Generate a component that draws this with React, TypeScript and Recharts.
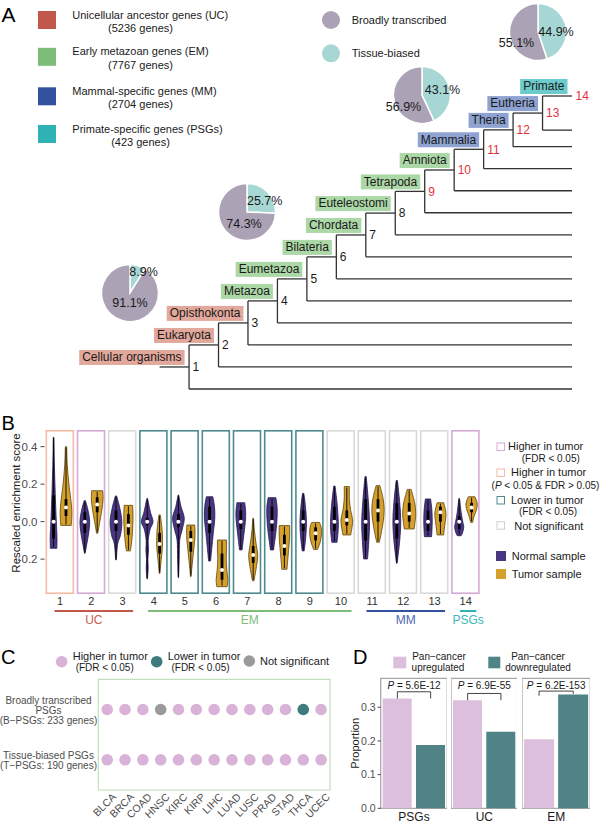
import React from "react";
import {
  ScatterChart,
  Scatter,
  XAxis,
  YAxis,
  ReferenceLine,
  ReferenceArea,
  PieChart,
  Pie,
  Cell,
  ComposedChart,
  Bar,
  BarChart,
  Label,
} from "recharts";

const FONT = "'Liberation Sans', Arial, Helvetica, sans-serif";

// ---------- panel A data ----------
const ageGroups = ["UC", "EM", "MM", "PSGs"];
const ageGroupTitles = [
  "Unicellular ancestor genes (UC)",
  "Early metazoan genes (EM)",
  "Mammal-specific genes (MM)",
  "Primate-specific genes (PSGs)",
];
const ageGroupGenes = [5236, 7767, 2704, 423];
const broadlyPct = [91.1, 74.3, 56.9, 55.1];
const tissuePct = [8.9, 25.7, 43.1, 44.9];

const cladeNames = [
  "Cellular organisms", "Eukaryota", "Opisthokonta", "Metazoa", "Eumetazoa",
  "Bilateria", "Chordata", "Euteleostomi", "Tetrapoda", "Amniota",
  "Mammalia", "Theria", "Eutheria", "Primate",
];
const cladeGroups = ["UC", "UC", "UC", "EM", "EM", "EM", "EM", "EM", "EM", "EM", "MM", "MM", "MM", "PSGs"];
// vertical position of each leaf (row units, bottom leaf = 0)
const leafRows = [0, 1, 2, 3, 4, 5, 6, 7, 8, 9, 10, 11, 11.75, 13.3];

// ---------- panel B data ----------
const strata = ["1", "2", "3", "4", "5", "6", "7", "8", "9", "10", "11", "12", "13", "14"];
const strataStatus = ["higherP", "higherFDR", "ns", "lower", "lower", "lower", "lower", "lower", "lower", "ns", "ns", "ns", "ns", "higherFDR"];
const normalMedian = [0, 0, 0, 0, 0, 0, 0, 0, 0, 0, 0, 0, 0, 0];
const tumorMedian = [0.076, 0.092, -0.021, -0.119, -0.098, -0.258, -0.178, -0.13, -0.062, 0.009, 0.059, 0.044, 0.05, 0.075];
const normalBox = [[-0.09, 0.14], [-0.06, 0.05], [-0.05, 0.06], [-0.02, 0.02], [-0.03, 0.04], [-0.06, 0.08], [-0.04, 0.06], [-0.05, 0.08], [-0.05, 0.06], [-0.05, 0.08], [-0.1, 0.12], [-0.09, 0.1], [-0.05, 0.06], [-0.04, 0.03]];
const tumorBox = [[0.03, 0.12], [0.05, 0.13], [-0.07, 0.04], [-0.17, -0.06], [-0.16, -0.05], [-0.31, -0.17], [-0.22, -0.13], [-0.18, -0.07], [-0.1, -0.03], [-0.02, 0.06], [0.0, 0.12], [0.0, 0.1], [0.0, 0.08], [0.05, 0.1]];
// violin outlines: [score, relative half width], top to bottom
const normalShape = [
  [[0.45, 0.05], [0.3, 0.12], [0.15, 0.25], [0.0, 0.42], [-0.08, 0.52], [-0.142, 0.5]],
  [[0.112, 0.1], [0.06, 0.5], [0.0, 0.75], [-0.06, 0.6], [-0.12, 0.3], [-0.169, 0.05]],
  [[0.137, 0.1], [0.07, 0.6], [0.0, 0.9], [-0.07, 0.7], [-0.12, 0.25], [-0.204, 0.05]],
  [[0.124, 0.05], [0.05, 0.5], [0.0, 0.9], [-0.04, 0.45], [-0.1, 0.15], [-0.15, 0.2], [-0.2, 0.1], [-0.25, 0.15], [-0.306, 0.03]],
  [[0.142, 0.05], [0.08, 0.4], [0.02, 0.9], [-0.04, 0.6], [-0.1, 0.2], [-0.2, 0.12], [-0.299, 0.03]],
  [[0.133, 0.5], [0.08, 0.75], [0.02, 0.8], [-0.05, 0.6], [-0.12, 0.4], [-0.21, 0.15]],
  [[0.101, 0.6], [0.05, 0.75], [0.0, 0.7], [-0.06, 0.5], [-0.12, 0.3], [-0.151, 0.2]],
  [[0.128, 0.6], [0.07, 0.8], [0.0, 0.75], [-0.07, 0.55], [-0.12, 0.35], [-0.151, 0.25]],
  [[0.151, 0.1], [0.08, 0.35], [0.0, 0.5], [-0.08, 0.4], [-0.156, 0.15]],
  [[0.19, 0.1], [0.1, 0.4], [0.0, 0.6], [-0.06, 0.55], [-0.11, 0.4]],
  [[0.24, 0.1], [0.12, 0.4], [0.0, 0.6], [-0.1, 0.5], [-0.199, 0.3]],
  [[0.219, 0.1], [0.1, 0.45], [0.0, 0.6], [-0.1, 0.45], [-0.222, 0.05]],
  [[0.121, 0.4], [0.06, 0.6], [0.0, 0.65], [-0.05, 0.6], [-0.08, 0.55]],
  [[0.124, 0.05], [0.05, 0.3], [0.0, 0.55], [-0.03, 0.7], [-0.06, 0.5], [-0.075, 0.3]],
];
const tumorShape = [
  [[0.4, 0.1], [0.3, 0.2], [0.2, 0.45], [0.1, 0.8], [0.05, 0.9], [0.0, 0.85], [-0.02, 0.8]],
  [[0.165, 0.85], [0.12, 0.9], [0.06, 0.7], [0.0, 0.4], [-0.04, 0.2], [-0.062, 0.1]],
  [[0.087, 0.65], [0.05, 0.7], [0.0, 0.7], [-0.07, 0.6], [-0.12, 0.45], [-0.156, 0.3]],
  [[0.036, 0.1], [-0.03, 0.35], [-0.1, 0.45], [-0.15, 0.4], [-0.22, 0.2], [-0.276, 0.05]],
  [[-0.018, 0.6], [-0.05, 0.65], [-0.1, 0.6], [-0.15, 0.45], [-0.2, 0.3], [-0.25, 0.15], [-0.293, 0.05]],
  [[-0.098, 0.7], [-0.15, 0.7], [-0.2, 0.65], [-0.26, 0.75], [-0.31, 0.9], [-0.347, 0.8]],
  [[0.018, 0.05], [-0.05, 0.2], [-0.12, 0.45], [-0.18, 0.7], [-0.24, 0.5], [-0.3, 0.2], [-0.316, 0.1]],
  [[-0.021, 0.8], [-0.08, 0.8], [-0.13, 0.7], [-0.19, 0.55], [-0.23, 0.45], [-0.254, 0.4]],
  [[-0.004, 0.6], [-0.03, 0.85], [-0.07, 0.9], [-0.11, 0.7], [-0.148, 0.3]],
  [[0.187, 0.4], [0.12, 0.4], [0.06, 0.6], [0.01, 0.9], [-0.03, 0.8], [-0.071, 0.6]],
  [[0.192, 0.3], [0.12, 0.8], [0.06, 0.95], [0.0, 0.8], [-0.06, 0.5], [-0.11, 0.2]],
  [[0.172, 0.3], [0.1, 0.85], [0.04, 1.0], [0.0, 0.9], [-0.039, 0.75]],
  [[0.101, 0.5], [0.06, 0.8], [0.03, 0.85], [0.0, 0.75], [-0.04, 0.6], [-0.071, 0.5]],
  [[0.133, 0.5], [0.1, 0.85], [0.07, 0.8], [0.03, 0.4], [-0.004, 0.15]],
];
const scoreTicks = [-0.2, 0, 0.2, 0.4];
const scoreMin = -0.386;
const scoreMax = 0.489;

// ---------- panel C data ----------
const cancers = ["BLCA", "BRCA", "COAD", "HNSC", "KIRC", "KIRP", "LIHC", "LUAD", "LUSC", "PRAD", "STAD", "THCA", "UCEC"];
const bPsgStatus = ["up", "up", "up", "ns", "up", "up", "up", "up", "up", "up", "up", "down", "up"];
const tPsgStatus = ["up", "up", "up", "up", "up", "up", "up", "up", "up", "up", "up", "up", "up"];
const rowLabels = [
  ["Broadly transcribed", "PSGs", "(B\u2212PSGs: 233 genes)"],
  ["Tissue-biased PSGs", "(T\u2212PSGs: 190 genes)"],
];

// ---------- panel D data ----------
const facets = ["PSGs", "UC", "EM"];
const upregProp = [0.326, 0.321, 0.205];
const downregProp = [0.188, 0.227, 0.338];
const pValues = ["5.6E-12", "6.9E-55", "6.2E-153"];
const bracketTop = [0.346, 0.341, 0.348];
const bracketLegs = [[0.326, 0.326], [0.321, 0.321], [0.334, 0.34]];
const propTicks = [0, 0.1, 0.2, 0.3];

// ---------- colours ----------
const groupColor: Record<string, string> = { UC: "#c2574b", EM: "#7dbd79", MM: "#3252a0", PSGs: "#2fb2b4" };
const groupText: Record<string, string> = { UC: "#c8604f", EM: "#7dbd79", MM: "#4a66ad", PSGs: "#3ab7b8" };
const cladeFill: Record<string, string> = { UC: "#e3a89c", EM: "#acd7a6", MM: "#8ea3d2", PSGs: "#6dcbcb" };
const BROAD = "#aba2b6";
const TISSUE = "#a6d7d4";
const frameColor: Record<string, string> = { higherFDR: "#d6aad6", higherP: "#f4bca6", lower: "#4f8b8d", ns: "#d9d9d9" };
const NORMAL = "#4a3781";
const TUMOR = "#d5a12c";
const dotColor: Record<string, string> = { up: "#d9b2d8", down: "#3d7b7d", ns: "#9a9a9a" };
const UPREG = "#dcbfdc";
const DOWNREG = "#4f8386";

let measureCtx: CanvasRenderingContext2D | null = null;
function textWidth(s: string, size: number) {
  if (!measureCtx) measureCtx = document.createElement("canvas").getContext("2d");
  if (!measureCtx) return s.length * size * 0.5;
  measureCtx.font = `${size}px ${FONT}`;
  return measureCtx.measureText(s).width;
}

// ---------- tree ----------
const nodeRows: number[] = (() => {
  const r: number[] = new Array(13);
  r[12] = (leafRows[13] + leafRows[12]) / 2;
  for (let k = 11; k >= 0; k--) r[k] = (r[k + 1] + leafRows[k]) / 2;
  return r;
})();

const CladeBox = (p: any) => {
  const { cx, cy, payload } = p;
  const w = textWidth(payload.name, 12) + 6;
  const right = cx - 4.5;
  const bottom = cy - 2;
  return (
    <g>
      <rect x={right - w} y={bottom - 15} width={w} height={15} fill={cladeFill[payload.group]} />
      <text x={right - w / 2} y={bottom - 3.6} textAnchor="middle" fontSize={12} fill="#1a1a1a">
        {payload.name}
      </text>
    </g>
  );
};

const NodeNumber = (p: any) => {
  const { cx, cy, payload } = p;
  return (
    <text x={cx + 3.5} y={cy + 4.3} fontSize={12} fill={payload.n >= 9 ? "#e3313b" : "#1a1a1a"}>
      {payload.n}
    </text>
  );
};

function TreeChart() {
  const segs: number[][] = [[0, nodeRows[0], 1, nodeRows[0]]];
  for (let k = 0; k < 13; k++) {
    const d = k + 1;
    const top = k === 12 ? leafRows[13] : nodeRows[k + 1];
    segs.push([d, top, d, leafRows[k]]);
    segs.push([d, leafRows[k], 14, leafRows[k]]);
    if (k < 12) segs.push([d, nodeRows[k + 1], d + 1, nodeRows[k + 1]]);
  }
  segs.push([13, leafRows[13], 14, leafRows[13]]);

  const cladePts = cladeNames.map((name, i) => ({
    x: i < 13 ? i + 1 : 14,
    y: i < 13 ? nodeRows[i] : leafRows[13],
    name,
    group: cladeGroups[i],
  }));
  const nodePts = nodeRows.map((y, i) => ({ x: i + 1, y, n: i + 1 }));
  nodePts.push({ x: 14, y: leafRows[13], n: 14 });

  return (
    <div style={{ position: "absolute", left: 0, top: 0 }}>
      <ScatterChart width={600} height={400} margin={{ top: 96, right: 28, bottom: 11, left: 159.6 }}>
        <XAxis type="number" dataKey="x" domain={[0, 14]} hide />
        <YAxis type="number" dataKey="y" domain={[0, 13.3]} hide />
        {segs.map((s, i) => (
          <ReferenceLine
            key={i}
            segment={[{ x: s[0], y: s[1] }, { x: s[2], y: s[3] }]}
            stroke="#333"
            strokeWidth={1.3}
            ifOverflow="visible"
          />
        ))}
        <Scatter data={cladePts} shape={CladeBox} isAnimationActive={false} />
        <Scatter data={nodePts} shape={NodeNumber} isAnimationActive={false} />
      </ScatterChart>
    </div>
  );
}

// ---------- pies ----------
const pieCenters = [[130, 293.3], [247.3, 211.7], [422, 94.5], [537.5, 32]];
const pieLabelOffsets = [
  [[13.5, -21], [0, 10]],
  [[17.7, -10.7], [-3, 11.6]],
  [[20.5, -5], [-18.5, 12]],
  [[18, 0], [-21.5, 11.3]],
];

function AgePie({ i }: { i: number }) {
  const [cx, cy] = pieCenters[i];
  const data = [
    { name: "Tissue-biased", value: tissuePct[i] },
    { name: "Broadly transcribed", value: broadlyPct[i] },
  ];
  const W = 120;
  const H = 90;
  return (
    <div style={{ position: "absolute", left: cx - W / 2, top: cy - H / 2 }}>
      <PieChart width={W} height={H} margin={{ top: 0, right: 0, bottom: 0, left: 0 }}>
        <Pie
          data={data}
          dataKey="value"
          cx={W / 2}
          cy={H / 2}
          outerRadius={28.5}
          startAngle={90}
          endAngle={-270}
          stroke="#fff"
          strokeWidth={1.5}
          isAnimationActive={false}
          labelLine={false}
          label={(p: any) => {
            const [dx, dy] = pieLabelOffsets[i][p.index];
            return (
              <text
                x={W / 2 + dx}
                y={H / 2 + dy}
                textAnchor="middle"
                dominantBaseline="central"
                fontSize={12.5}
                fill="#1a1a1a"
              >
                {data[p.index].value.toFixed(1)}%
              </text>
            );
          }}
        >
          <Cell fill={TISSUE} />
          <Cell fill={BROAD} />
        </Pie>
      </PieChart>
    </div>
  );
}

// ---------- panel B ----------
function smooth(pts: number[][], start: "M" | "L") {
  let d = `${start}${pts[0][0]},${pts[0][1]}`;
  for (let i = 0; i < pts.length - 1; i++) {
    const p0 = pts[i - 1] || pts[i];
    const p1 = pts[i];
    const p2 = pts[i + 1];
    const p3 = pts[i + 2] || p2;
    const c1x = p1[0] + (p2[0] - p0[0]) / 6;
    const c1y = p1[1] + (p2[1] - p0[1]) / 6;
    const c2x = p2[0] - (p3[0] - p1[0]) / 6;
    const c2y = p2[1] - (p3[1] - p1[1]) / 6;
    d += ` C${c1x},${c1y} ${c2x},${c2y} ${p2[0]},${p2[1]}`;
  }
  return d;
}

function Violin({ cx, shape, box, median, toPx, fill, stroke }: any) {
  const VW = 6.5;
  const right = shape.map(([v, w]: number[]) => [cx + w * VW, toPx(v)]);
  const left = shape.map(([v, w]: number[]) => [cx - w * VW, toPx(v)]).reverse();
  const d = smooth(right, "M") + " " + smooth(left, "L") + " Z";
  const vmax = shape[0][0];
  const vmin = shape[shape.length - 1][0];
  return (
    <g>
      <path d={d} fill={fill} stroke={stroke} strokeWidth={0.8} />
      <line x1={cx} x2={cx} y1={toPx(vmax) + 1} y2={toPx(vmin) - 1} stroke="#000" strokeWidth={0.9} />
      <rect x={cx - 1.4} y={toPx(box[1])} width={2.8} height={toPx(box[0]) - toPx(box[1])} fill="#000" />
      <circle cx={cx} cy={toPx(median)} r={2} fill="#fff" />
    </g>
  );
}

const StratumCell = (p: any) => {
  const { x, y, width, height, index } = p;
  const top = Math.min(y, y + height);
  const h = Math.abs(height);
  const toPx = (v: number) => top + ((scoreMax - v) / (scoreMax - scoreMin)) * h;
  const cx = x + width / 2;
  return (
    <g>
      <rect
        x={x + 0.8}
        y={top + 0.8}
        width={width - 1.6}
        height={h - 1.6}
        fill="#fff"
        stroke={frameColor[strataStatus[index]]}
        strokeWidth={1.6}
      />
      <Violin
        cx={cx - 6.2}
        shape={normalShape[index]}
        box={normalBox[index]}
        median={normalMedian[index]}
        toPx={toPx}
        fill={NORMAL}
        stroke="#24174d"
      />
      <Violin
        cx={cx + 6.2}
        shape={tumorShape[index]}
        box={tumorBox[index]}
        median={tumorMedian[index]}
        toPx={toPx}
        fill={TUMOR}
        stroke="#5d430c"
      />
    </g>
  );
};

const StratumTick = (p: any) => (
  <text x={p.x} y={p.y + 11} textAnchor="middle" fontSize={11} fill="#333">
    {p.payload.value}
  </text>
);

function ViolinChart() {
  const data = strata.map((g) => ({ g, frame: [scoreMin, scoreMax] }));
  return (
    <div style={{ position: "absolute", left: 0, top: 420 }}>
      <ComposedChart width={490} height={200} data={data} margin={{ top: 10, right: 8.7, bottom: 12, left: 0 }}>
        <XAxis
          dataKey="g"
          axisLine={false}
          tickLine={false}
          tickSize={0}
          tickMargin={0}
          height={14}
          interval={0}
          tick={StratumTick}
        />
        <YAxis
          type="number"
          domain={[scoreMin, scoreMax]}
          ticks={scoreTicks}
          tickFormatter={(v: number) => v.toFixed(1)}
          width={44.5}
          axisLine={false}
          tickSize={4}
          tickMargin={3}
          tickLine={{ stroke: "#444" }}
          tick={{ fontSize: 11.5, fill: "#4d4d4d" }}
          allowDataOverflow
        >
          <Label
            content={(lp: any) => {
              const vb = lp.viewBox || { x: 0, y: 10, width: 44.5, height: 164 };
              const cy = vb.y + vb.height / 2 - 9;
              return (
                <text x={16} y={cy} transform={`rotate(-90 16 ${cy})`} textAnchor="middle" dominantBaseline="central" fontSize={11.5} fill="#1a1a1a">
                  Rescaled enrichment score
                </text>
              );
            }}
          />
        </YAxis>
        <Bar dataKey="frame" barSize={28.6} shape={StratumCell} isAnimationActive={false} />
      </ComposedChart>
    </div>
  );
}

// ---------- panel C ----------
const CancerTick = (p: any) => {
  const ex = p.x + 9.6;
  const ey = p.y + 7.6;
  return (
    <text x={ex} y={ey} transform={`rotate(-45 ${ex} ${ey})`} textAnchor="end" fontSize={10.5} fill="#4d4d4d">
      {cancers[p.payload.value]}
    </text>
  );
};

const RowTick = (p: any) => {
  const lines = rowLabels[p.payload.value - 1] || [];
  const cx = p.x - 49.8;
  const start = p.y - (lines.length - 1) * 5 + 1;
  return (
    <text textAnchor="middle" fontSize={10} fill="#4d4d4d">
      {lines.map((l, i) => (
        <tspan key={i} x={cx} y={start + i * 10 + 3.6}>
          {l}
        </tspan>
      ))}
    </text>
  );
};

const StatusDot = (p: any) => <circle cx={p.cx} cy={p.cy} r={5.8} fill={dotColor[p.payload.status]} />;

function DotChart() {
  const data = [
    ...cancers.map((c, i) => ({ x: i, y: 1, status: bPsgStatus[i] })),
    ...cancers.map((c, i) => ({ x: i, y: 2, status: tPsgStatus[i] })),
  ];
  return (
    <div style={{ position: "absolute", left: 0, top: 670 }}>
      <ScatterChart width={340} height={155} margin={{ top: 9.3, right: 10, bottom: 0, left: 0 }}>
        <XAxis
          type="number"
          dataKey="x"
          domain={[-0.5, 12.5]}
          ticks={cancers.map((c, i) => i)}
          interval={0}
          axisLine={false}
          tickLine={false}
          tickSize={0}
          tickMargin={0}
          height={35}
          tick={CancerTick}
        />
        <YAxis
          type="number"
          dataKey="y"
          domain={[0.4, 2.6]}
          reversed
          ticks={[1, 2]}
          interval={0}
          axisLine={false}
          tickLine={false}
          tickSize={0}
          tickMargin={0}
          width={98.3}
          tick={RowTick}
        />
        <ReferenceArea y1={0.4} y2={2.6} fill="none" stroke="#bfe0ba" strokeWidth={1.2} ifOverflow="visible" />
        <Scatter data={data} shape={StatusDot} isAnimationActive={false} />
      </ScatterChart>
    </div>
  );
}

// ---------- panel D ----------
const facetLayout = [
  { left: 336, width: 111.3, axis: true },
  { left: 450.7, width: 66.6, axis: false },
  { left: 521.7, width: 68.3, axis: false },
];

function Facet({ i }: { i: number }) {
  const lay = facetLayout[i];
  const data = [
    { k: "up", v: upregProp[i] },
    { k: "down", v: downregProp[i] },
  ];
  const frameLabel = (lp: any) => {
    const vb = lp.viewBox;
    if (!vb) return null;
    const mx = vb.x + vb.width / 2;
    return (
      <g>
        <text x={mx} y={vb.y + 11} textAnchor="middle" fontSize={10} fill="#1a1a1a">
          <tspan fontStyle="italic">P</tspan> = {pValues[i]}
        </text>
        <text x={mx} y={vb.y + vb.height + 13} textAnchor="middle" fontSize={12} fill="#1a1a1a">
          {facets[i]}
        </text>
      </g>
    );
  };
  const segs = [
    [["up", bracketLegs[i][0]], ["up", bracketTop[i]]],
    [["up", bracketTop[i]], ["down", bracketTop[i]]],
    [["down", bracketTop[i]], ["down", bracketLegs[i][1]]],
  ];
  return (
    <div style={{ position: "absolute", left: lay.left, top: 670 }}>
      <BarChart
        width={lay.width}
        height={155}
        data={data}
        margin={{ top: 8.3, right: 0, bottom: 16.7, left: 0 }}
        barCategoryGap={2}
      >
        <XAxis dataKey="k" hide />
        <YAxis
          type="number"
          domain={[0, 0.386]}
          ticks={propTicks}
          tickFormatter={(v: number) => v.toFixed(1)}
          hide={!lay.axis}
          width={44.7}
          axisLine={false}
          tickSize={3}
          tickMargin={2}
          tickLine={{ stroke: "#444" }}
          tick={{ fontSize: 10.5, fill: "#4d4d4d" }}
        >
          {lay.axis && (
            <Label
              content={(lp: any) => {
                const vb = lp.viewBox || { y: 8.3, height: 130 };
                const cy = vb.y + vb.height / 2;
                return (
                  <text x={19} y={cy} transform={`rotate(-90 19 ${cy})`} textAnchor="middle" dominantBaseline="central" fontSize={11} fill="#1a1a1a">
                    Proportion
                  </text>
                );
              }}
            />
          )}
        </YAxis>
        <Bar dataKey="v" isAnimationActive={false}>
          <Cell fill={UPREG} />
          <Cell fill={DOWNREG} />
        </Bar>
        <ReferenceArea
          y1={0}
          y2={0.386}
          fill="none"
          stroke="#a8a8a8"
          strokeWidth={1.3}
          ifOverflow="visible"
          label={frameLabel}
        />
        {segs.map((s, j) => (
          <ReferenceLine
            key={j}
            segment={[{ x: s[0][0], y: s[0][1] }, { x: s[1][0], y: s[1][1] }]}
            stroke="#444"
            strokeWidth={1}
            ifOverflow="visible"
          />
        ))}
      </BarChart>
    </div>
  );
}

// ---------- static legends / letters ----------
function Overlay() {
  const sqCenters = [20, 56.8, 96.3, 134];
  const bandLeft = 44.5;
  const band = 31.2;
  const spans = [
    ["UC", 0, 2],
    ["EM", 3, 9],
    ["MM", 10, 12],
    ["PSGs", 13, 13],
  ] as [string, number, number][];
  const fdr = "(FDR < 0.05)";
  return (
    <svg width={600} height={825} style={{ position: "absolute", left: 0, top: 0, pointerEvents: "none" }} fontFamily={FONT}>
      {/* panel letters */}
      <text x={1.5} y={21.7} fontSize={21} fill="#000">A</text>
      <text x={1.5} y={430} fontSize={20} fill="#000">B</text>
      <text x={1} y={663.5} fontSize={20} fill="#000">C</text>
      <text x={353} y={663.5} fontSize={20} fill="#000">D</text>

      {/* age group legend */}
      {ageGroups.map((g, i) => (
        <g key={g}>
          <rect x={38} y={sqCenters[i] - 9} width={18} height={18} fill={groupColor[g]} />
          <text x={72.3} y={sqCenters[i] - 5.5 + 4} fontSize={11} fill="#1a1a1a">{ageGroupTitles[i]}</text>
          <text x={140.5} y={sqCenters[i] + 7.8 + 4} fontSize={11} fill="#1a1a1a" textAnchor="middle">
            ({ageGroupGenes[i]} genes)
          </text>
        </g>
      ))}

      {/* pie legend */}
      <circle cx={331} cy={20} r={9} fill={BROAD} />
      <text x={351.7} y={24} fontSize={11} fill="#1a1a1a">Broadly transcribed</text>
      <circle cx={331} cy={53.3} r={9} fill={TISSUE} />
      <text x={351.7} y={57.3} fontSize={11} fill="#1a1a1a">Tissue-biased</text>

      {/* panel B group underlines */}
      {spans.map(([g, a, b]) => {
        const x1 = bandLeft + a * band + 10;
        const x2 = bandLeft + (b + 1) * band - 5;
        return (
          <g key={g}>
            <line x1={x1} x2={x2} y1={611} y2={611} stroke={groupColor[g]} strokeWidth={2} />
            <text x={(x1 + x2) / 2} y={624.3} fontSize={12} textAnchor="middle" fill={groupText[g]}>{g}</text>
          </g>
        );
      })}

      {/* panel B legend */}
      <g fontSize={11} fill="#1a1a1a">
        <rect x={497} y={443} width={7.5} height={7.5} fill="#fff" stroke={frameColor.higherFDR} strokeWidth={1} />
        <text x={508} y={449.5}>Higher in tumor</text>
        <text x={550.8} y={461.8} fontSize={10} textAnchor="middle">{fdr}</text>
        <rect x={497} y={469} width={7.5} height={7.5} fill="#fff" stroke={frameColor.higherP} strokeWidth={1} />
        <text x={511} y={476.1}>Higher in tumor</text>
        <text x={545.5} y={489.2} fontSize={10} textAnchor="middle">
          (<tspan fontStyle="italic">P</tspan> {"< 0.05 & FDR > 0.05)"}
        </text>
        <rect x={497} y={496.5} width={7.5} height={7.5} fill="#fff" stroke={frameColor.lower} strokeWidth={1} />
        <text x={511} y={503.8}>Lower in tumor</text>
        <text x={548} y={515.2} fontSize={10} textAnchor="middle">{fdr}</text>
        <rect x={497} y={521.7} width={7.5} height={7.5} fill="#fff" stroke="#cfcfcf" strokeWidth={1} />
        <text x={514.3} y={529.5}>Not significant</text>
        <rect x={496} y={551} width={10} height={10} fill={NORMAL} />
        <text x={511.7} y={560.1}>Normal sample</text>
        <rect x={496} y={569} width={10} height={10} fill={TUMOR} />
        <text x={511.7} y={577.8}>Tumor sample</text>
      </g>

      {/* panel C legend */}
      <g fontSize={11} fill="#1a1a1a">
        <circle cx={61.7} cy={661.7} r={5.8} fill={dotColor.up} />
        <text x={72.7} y={660}>Higher in tumor</text>
        <text x={104.7} y={670.8} fontSize={10} textAnchor="middle">{fdr}</text>
        <circle cx={156.7} cy={661.7} r={5.8} fill={dotColor.down} />
        <text x={167.7} y={660}>Lower in tumor</text>
        <text x={200.5} y={670.8} fontSize={10} textAnchor="middle">{fdr}</text>
        <circle cx={249.3} cy={661} r={5.8} fill={dotColor.ns} />
        <text x={260} y={664.8}>Not significant</text>
      </g>

      {/* panel D legend */}
      <g fontSize={10} fill="#1a1a1a" textAnchor="middle">
        <rect x={393.3} y={656.7} width={13} height={11.6} fill={UPREG} />
        <text x={439} y={659.5}>Pan{"\u2212"}cancer</text>
        <text x={438} y={670.8}>upregulated</text>
        <rect x={488.3} y={656.7} width={12} height={11.6} fill={DOWNREG} />
        <text x={538} y={659.5}>Pan{"\u2212"}cancer</text>
        <text x={538} y={670.8}>downregulated</text>
      </g>
    </svg>
  );
}

export default function App() {
  return (
    <div
      style={{
        position: "absolute",
        left: 0,
        top: 0,
        width: 600,
        height: 825,
        overflow: "hidden",
        background: "#fff",
        fontFamily: FONT,
      }}
    >
      <TreeChart />
      {ageGroups.map((g, i) => (
        <AgePie key={g} i={i} />
      ))}
      <ViolinChart />
      <DotChart />
      {facets.map((f, i) => (
        <Facet key={f} i={i} />
      ))}
      <Overlay />
    </div>
  );
}
